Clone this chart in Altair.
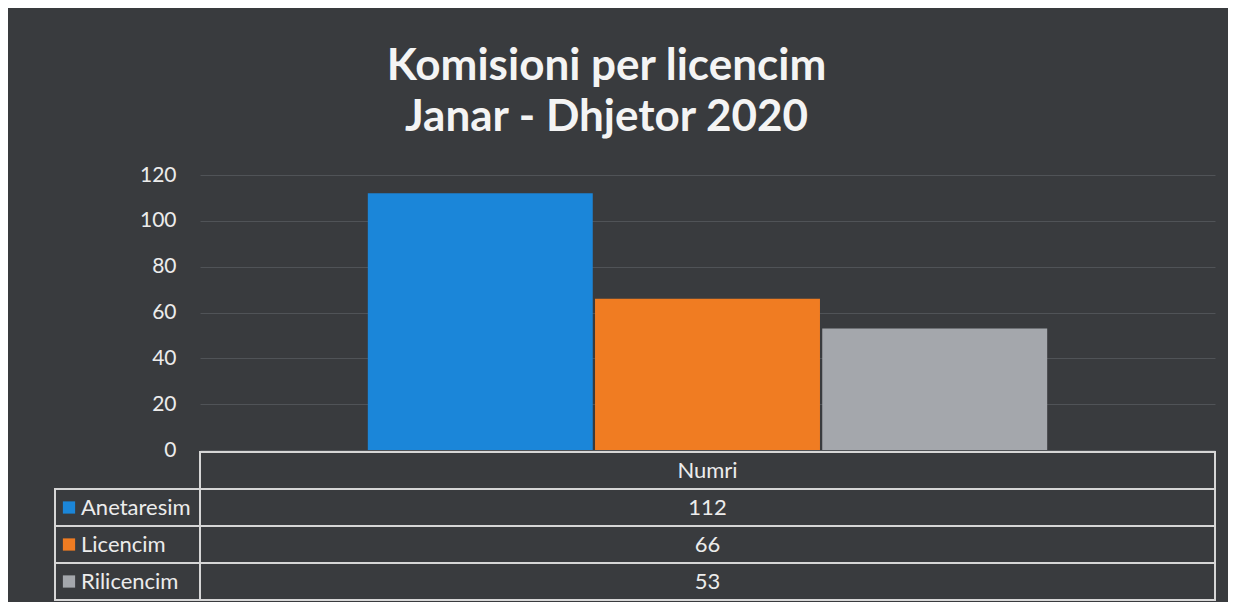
import altair as alt
import pandas as pd

title_lines = ["Komisioni per licencim", "Janar - Dhjetor 2020"]
category = "Numri"
series = ["Anetaresim", "Licencim", "Rilicencim"]
values = [112, 66, 53]
colors = ["#1b86d9", "#f07c22", "#a4a7ac"]

bars_df = pd.DataFrame({"cat": [category] * len(series), "series": series, "value": values})
rows = ["hdr"] + series
table_df = pd.DataFrame({
    "cat": [category] * 4,
    "row": rows,
    "text": [category] + [str(v) for v in values],
})
legend_df = pd.DataFrame({"row": series, "series": series})

W, H = 1015, 275
bg = "#393b3e"
line_col = "#d6d6d6"
font = "Lato"

color_scale = alt.Scale(domain=series, range=colors)
x_scale = alt.Scale(domain=[category], paddingOuter=0.247, paddingInner=0)
row_scale = alt.Scale(domain=rows, range=[277, 425], paddingInner=0, paddingOuter=0)

bars = alt.Chart(bars_df).mark_bar().encode(
    x=alt.X("cat:N", scale=x_scale, axis=None),
    xOffset=alt.XOffset("series:N", sort=series, scale=alt.Scale(paddingInner=0.01)),
    y=alt.Y("value:Q", scale=alt.Scale(domain=[0, 120], nice=False),
            axis=alt.Axis(values=[0, 20, 40, 60, 80, 100, 120], domain=False, ticks=False,
                          labelPadding=24, labelFontSize=21, labelColor="#ececec",
                          labelFont=font, gridColor="#505357", gridWidth=1.2, title=None)),
    color=alt.Color("series:N", scale=color_scale, legend=None),
)

cells = alt.Chart(table_df).mark_rect(fill=bg, fillOpacity=0, stroke=line_col, strokeWidth=2).encode(
    x=alt.value(0), x2=alt.value("width"),
    y=alt.Y("row:N", scale=row_scale, axis=None),
)

legend_cells = alt.Chart(legend_df).mark_rect(fill=bg, fillOpacity=0, stroke=line_col, strokeWidth=2).encode(
    x=alt.value(-145), x2=alt.value(0),
    y=alt.Y("row:N", scale=row_scale, axis=None),
)

cell_text = alt.Chart(table_df).mark_text(fontSize=22, font=font, color="#ececec").encode(
    x=alt.X("cat:N", scale=x_scale, axis=None),
    y=alt.Y("row:N", scale=row_scale, axis=None),
    text="text:N",
)

squares = alt.Chart(legend_df).mark_square(size=150, opacity=1).encode(
    x=alt.value(-131),
    y=alt.Y("row:N", scale=row_scale, axis=None),
    color=alt.Color("series:N", scale=color_scale, legend=None),
)

legend_text = alt.Chart(legend_df).mark_text(fontSize=22, font=font, color="#ececec", align="left").encode(
    x=alt.value(-119),
    y=alt.Y("row:N", scale=row_scale, axis=None),
    text="series:N",
)

chart = alt.layer(bars, cells, legend_cells, cell_text, squares, legend_text).resolve_scale(
    y="independent"
).properties(
    width=W, height=H,
    autosize=alt.AutoSizeParams(type="none"),
    padding={"left": 192, "top": 167, "right": 13, "bottom": 152},
    background=bg,
    title=alt.TitleParams(text=title_lines, fontSize=44, font=font, fontWeight="bold",
                          color="#f4f4f4", lineHeight=51, offset=24, dx=-101, anchor="middle"),
).configure_view(stroke=None)

chart.save("out.html", embed_options={"renderer": "svg", "actions": False})
